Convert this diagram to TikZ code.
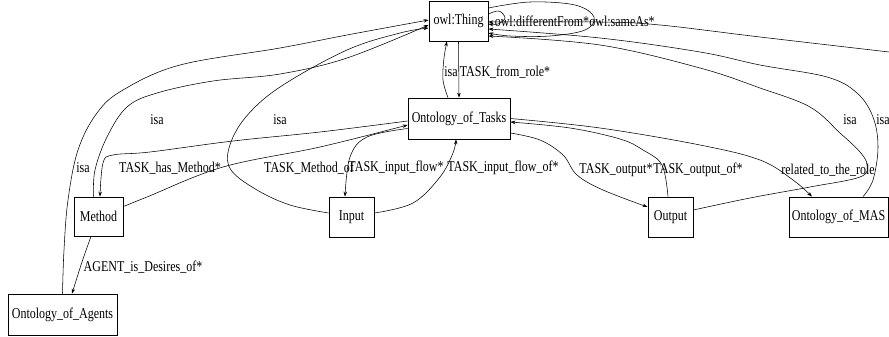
\documentclass[tikz,border=0pt]{standalone}
\usepackage{fontspec}
\setmainfont{Liberation Serif}[FakeStretch=0.8]
\usetikzlibrary{arrows.meta}
\begin{document}
\begin{tikzpicture}[x=1pt,y=-1pt,
 box/.style={draw,line width=0.8pt,inner sep=0pt,font=\fontsize{15}{17}\selectfont},
 lbl/.style={inner sep=0pt,font=\fontsize{15}{17}\selectfont},
 edge/.style={line width=0.55pt,-{Stealth[length=5pt,width=3.5pt]}},
 sm/.style={smooth,tension=0.6}]
\fill[white] (0,0) rectangle (889,337);
\useasboundingbox (0,0) rectangle (889,337);
% nodes
\node[box,minimum width=59pt,minimum height=40pt] (thing) at (458.5,21) {owl:Thing};
\node[box,minimum width=102pt,minimum height=41pt] (tasks) at (459,118.5) {Ontology\_of\_Tasks};
\node[box,minimum width=49pt,minimum height=39pt] (method) at (98.5,216.5) {Method};
\node[box,minimum width=109pt,minimum height=41pt] (agents) at (62.5,314.5) {Ontology\_of\_Agents};
\node[box,minimum width=45pt,minimum height=40pt] (input) at (351.5,217) {Input};
\node[box,minimum width=45pt,minimum height=40pt] (output) at (670.5,217) {Output};
\node[box,minimum width=99pt,minimum height=40pt] (mas) at (838.5,217) {Ontology\_of\_MAS};
\coordinate (offright) at (889,52);
% isa edges to owl:Thing
\draw[edge] plot[sm] coordinates {(agents.north) (64,250) (68,200) (78,150) (97,113) (123,90) (180,65) (280,48) (347,35) ([yshift=1pt]thing.west)};
\draw[edge] plot[sm] coordinates {([xshift=-5pt]method.north) (95,170) (107,137) (127,107) (157,93) (213,81) (280,74) (347,58) ([yshift=-4pt]thing.west)};
\draw[edge] plot[sm] coordinates {([yshift=4pt]input.west) (290,205) (257,190) (231,170) (229,148) (245,118) (280,87) (347,50) (400,33) ([yshift=-7pt]thing.west)};
\draw[edge] plot[sm] coordinates {([xshift=-11pt]tasks.north) (443,80) (444,58) ([xshift=-11.5pt]thing.south)};
\draw[edge] (thing.south) -- (tasks.north);
\draw[edge] plot[sm] coordinates {([yshift=7pt]output.east) (750,198) (810,187) (860,177) (867,165) (860,152) (840,133) (810,107) (760,88) (700,68) (600,45) ([yshift=-15pt]thing.east)};
\draw[edge] plot[sm] coordinates {([xshift=24.5pt]mas.north) (873,180) (878,147) (873,117) (857,93) (827,77) (760,65) (700,52) (600,38) ([yshift=-8pt]thing.east)};
\draw[edge] plot[sm] coordinates {(offright) (760,37) (660,25) (600,22) ([yshift=-1pt]thing.east)};
% self loops
\draw[edge] plot[sm] coordinates {([yshift=13pt]thing.east) (530,2) (575,5) (594,17) (585,30) (550,36) (510,36) ([yshift=-12pt]thing.east)};
\draw[edge] plot[sm] coordinates {([yshift=7pt]thing.east) (499,11) (505,18) (498,24) ([yshift=-3pt]thing.east)};
% slot edges
\draw[edge] plot[sm] coordinates {([yshift=-2.5pt]tasks.west) (320,132) (233,141) (150,152) (113,155) (103,163) ([xshift=1.5pt]method.north)};
\draw[edge] plot[sm] coordinates {([yshift=10pt]method.east) (147,197) (223,167) (320,147) ([yshift=-6.5pt]tasks.west)};
\draw[edge] plot[sm] coordinates {([yshift=-10pt]tasks.west) (367,137) (350,157) ([xshift=-6.5pt]input.north)};
\draw[edge] plot[sm] coordinates {([yshift=4pt]input.east) (413,203) (440,177) (453,153) ([xshift=-3pt]tasks.south)};
\draw[edge] plot[sm] coordinates {([yshift=-14.5pt]tasks.east) (540,140) (563,155) (577,175) (603,190) ([yshift=10pt]output.west)};
\draw[edge] plot[sm] coordinates {([xshift=-2.5pt]output.north) (662,165) (643,150) (620,139) (570,128) ([yshift=-3.5pt]tasks.east)};
\draw[edge] plot[sm] coordinates {(tasks.east) (600,128) (700,145) (760,160) (793,180) ([xshift=-26.5pt]mas.north)};
\draw[edge] plot[sm] coordinates {([xshift=-7.5pt]method.south) (82,262) ([xshift=9.5pt]agents.north)};
% labels
\node[lbl] (l1) at (157,120) {isa};
\node[lbl] (l2) at (83,168) {isa};
\node[lbl] (l3) at (280,120) {isa};
\node[lbl] (l4) at (451,72) {isa};
\node[lbl] (l5) at (505,72) {TASK\_from\_role*};
\node[lbl] (l6) at (850,120) {isa};
\node[lbl] (l7) at (883,120) {isa};
\node[lbl] (l8) at (542,21) {owl:differentFrom*};
\node[lbl] (l9) at (622,21) {owl:sameAs*};
\node[lbl] (l10) at (170,168) {TASK\_has\_Method*};
\node[lbl] (l11) at (309,168) {TASK\_Method\_of};
\node[lbl] (l12) at (396,168) {TASK\_input\_flow*};
\node[lbl] (l13) at (503,168) {TASK\_input\_flow\_of*};
\node[lbl] (l14) at (616,170) {TASK\_output*};
\node[lbl] (l15) at (698,170) {TASK\_output\_of*};
\node[lbl] (l16) at (828,170) {related\_to\_the\_role};
\node[lbl] (l17) at (143,267) {AGENT\_is\_Desires\_of*};
\end{tikzpicture}
\end{document}
